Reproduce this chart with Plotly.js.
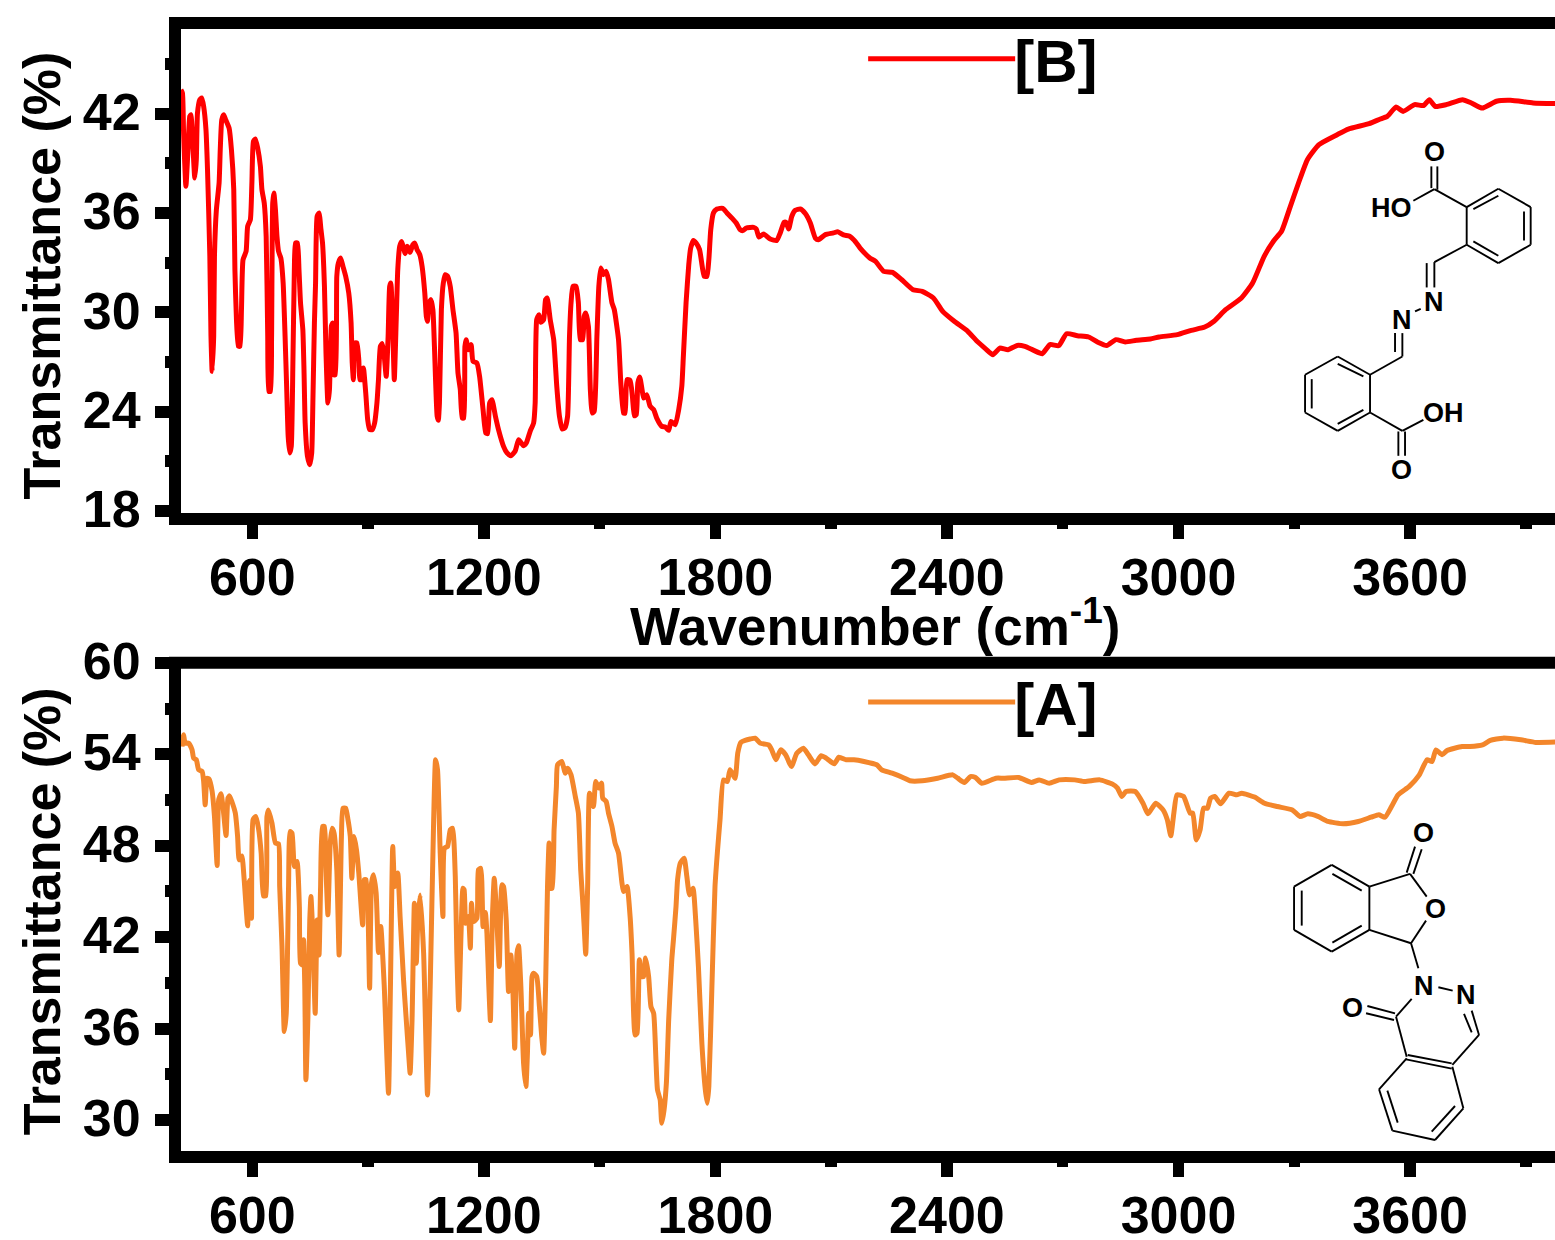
<!DOCTYPE html>
<html>
<head>
<meta charset="utf-8">
<script src="https://cdn.plot.ly/plotly-3.0.1.min.js"></script>
<style>html,body{margin:0;padding:0;background:#fff;overflow:hidden}#chart{width:1555px;height:1240px}</style>
</head>
<body>
<div id="chart"></div>
<script>
const wavenumberB = [415,419,422,428,433,438,441,445,451,455,458,464,469,474,480,484,490,493,496,500,502,507,514,517,521,526,531,540,546,552,555,559,564,568,572,576,584,588,595,599,603,608,614,621,625,631,636,640,643,647,650,653,656,660,664,668,674,680,685,689,693,697,701,705,709,712,717,721,725,731,734,737,743,749,754,757,761,764,768,773,778,782,787,791,796,800,805,808,811,815,819,823,829,835,842,850,856,859,862,866,871,876,879,884,888,894,899,904,911,917,923,927,932,937,942,947,952,956,959,964,968,973,977,982,987,992,996,1001,1005,1009,1016,1021,1027,1034,1040,1047,1051,1054,1058,1063,1068,1072,1079,1082,1085,1090,1095,1100,1106,1113,1120,1128,1133,1139,1144,1148,1151,1154,1160,1167,1172,1182,1189,1198,1205,1210,1215,1221,1230,1238,1251,1260,1270,1281,1290,1294,1303,1310,1320,1329,1333,1337,1343,1348,1355,1360,1364,1372,1381,1389,1396,1403,1410,1417,1422,1426,1431,1439,1445,1450,1456,1460,1464,1471,1476,1481,1486,1493,1498,1503,1510,1517,1523,1532,1538,1549,1555,1562,1566,1571,1579,1585,1590,1595,1599,1604,1610,1614,1622,1631,1640,1648,1661,1670,1679,1685,1696,1705,1713,1717,1724,1731,1736,1743,1750,1759,1764,1771,1778,1783,1788,1795,1804,1819,1830,1843,1854,1864,1871,1880,1899,1906,1913,1925,1942,1959,1968,1978,1983,1990,1998,2007,2020,2033,2046,2059,2067,2085,2106,2117,2132,2148,2160,2175,2200,2215,2236,2259,2283,2312,2336,2365,2389,2419,2454,2478,2501,2519,2537,2558,2582,2602,2625,2647,2667,2690,2710,2738,2767,2791,2814,2838,2862,2891,2927,2950,2997,3033,3068,3092,3122,3163,3192,3222,3246,3267,3287,3311,3334,3364,3411,3440,3494,3523,3541,3564,3582,3612,3635,3650,3665,3694,3736,3759,3787,3824,3860,3919,3976];
const transmittanceB = [43.46,43.26,40.84,37.62,39.63,41.85,41.95,40.64,38.12,39.23,42.05,42.86,42.96,42.45,41.04,38.63,33.39,28.55,26.43,28.55,33.39,36.21,37.82,39.83,41.65,41.95,41.65,41.14,39.83,37.42,32.58,29.56,27.95,27.95,30.16,33.18,33.69,35.2,35.6,37.82,40.34,40.48,39.93,38.83,37.42,36.61,34.59,28.55,25.22,25.22,28.55,36.61,37.21,36.21,34.59,33.69,33.28,31.77,28.55,25.53,22.5,21.5,21.9,26.53,32.58,34.19,34.19,32.58,30.57,28.95,26.53,23.31,21.3,20.79,21.5,24.52,29.36,31.77,35.8,36.01,35,34.19,31.57,27.54,24.52,25.33,29.16,29.36,26.23,26.23,32.18,32.98,33.28,32.78,32.18,31.17,29.36,26.94,25.93,28.15,28.15,27.14,25.93,25.93,26.64,25.13,23.51,22.91,22.91,23.31,24.52,25.93,27.94,28.11,27.34,26.13,28.55,31.57,31.77,28.95,25.93,29.56,32.58,33.99,34.29,33.89,33.55,33.99,33.89,33.63,34.09,34.19,33.79,33.49,32.78,31.17,29.76,29.46,30.57,30.77,30.16,27.94,23.72,23.47,24.52,30.16,31.77,32.28,32.18,31.57,30.16,28.75,26.33,25.33,23.61,23.61,27.94,28.35,27.74,28.05,27.04,26.94,26.13,24.12,22.71,22.67,24.52,24.72,23.72,22.91,21.9,21.5,21.33,21.6,22.3,22.2,21.94,22.1,22.81,23.31,24.52,29.56,29.86,29.4,29.56,30.77,30.87,29.56,28.35,25.53,23.71,22.95,23.01,23.71,28.55,30.57,31.57,31.57,30.57,28.35,28.35,29.76,29.96,29.15,25.33,23.91,24.02,28.55,31.57,32.68,32.28,32.48,31.98,30.57,30.16,28.35,25.73,23.91,23.91,25.93,25.89,24.92,23.75,23.81,25.73,26.09,25.33,24.82,25.02,24.32,24.12,23.61,23.11,23.07,22.87,23.41,23.21,24.12,25.53,27.34,30.57,32.88,33.89,34.35,34.19,33.79,33.08,32.18,32.18,33.18,35,36.01,36.25,36.29,36.01,35.7,35.4,35,34.94,35.1,35.14,35.04,34.55,34.74,34.43,34.35,34.8,35.44,35.44,35.04,35.81,36.17,36.25,35.97,35.4,34.49,34.39,34.7,34.8,34.88,34.68,34.6,34.35,33.89,33.29,33.08,32.48,32.42,31.97,31.37,31.27,30.87,30.06,29.46,28.85,28.25,27.78,27.44,27.84,27.74,28,27.94,27.7,27.5,28.05,27.99,28.71,28.59,28.51,28.19,27.99,28.35,28.21,28.31,28.39,28.51,28.65,28.91,29.11,29.46,30.16,30.87,31.77,33.39,34.3,34.9,36.21,37.82,39.23,40.14,40.74,41.08,41.41,41.69,41.85,42.41,42.15,42.56,42.5,42.86,42.45,42.56,42.86,42.66,42.35,42.76,42.82,42.66,42.62];

const wavenumberA = [418,422,426,435,444,448,455,461,470,474,478,483,488,496,502,509,513,519,524,532,537,541,547,556,562,566,573,579,588,591,595,598,602,609,616,623,629,635,638,642,651,660,668,671,677,683,688,694,698,703,709,716,722,725,730,733,736,739,744,749,752,757,763,768,773,777,782,787,791,796,802,807,812,819,825,831,835,842,848,854,858,864,870,876,886,890,895,904,909,914,921,927,933,942,953,958,964,969,977,983,992,999,1005,1009,1014,1020,1025,1029,1035,1044,1054,1061,1070,1075,1080,1087,1094,1098,1106,1113,1119,1126,1130,1135,1141,1146,1149,1153,1160,1165,1168,1173,1182,1186,1192,1198,1204,1208,1213,1217,1222,1227,1232,1240,1247,1251,1258,1264,1270,1275,1280,1286,1290,1296,1303,1309,1313,1316,1321,1325,1329,1337,1344,1350,1355,1360,1365,1369,1372,1377,1382,1388,1391,1402,1411,1417,1426,1437,1445,1451,1456,1460,1464,1469,1474,1484,1490,1498,1505,1508,1517,1523,1532,1540,1549,1558,1562,1571,1579,1584,1592,1597,1603,1609,1614,1619,1627,1633,1640,1646,1650,1657,1661,1667,1673,1679,1687,1692,1698,1702,1709,1719,1726,1733,1742,1749,1756,1765,1774,1779,1783,1791,1799,1805,1812,1821,1831,1838,1851,1858,1866,1877,1890,1903,1916,1938,1946,1957,1969,1982,1997,2011,2028,2041,2058,2074,2087,2108,2120,2139,2159,2185,2218,2231,2258,2290,2304,2336,2376,2415,2428,2445,2461,2474,2490,2527,2547,2586,2619,2639,2665,2691,2731,2757,2796,2829,2842,2853,2864,2888,2908,2921,2941,2960,2971,2980,2988,2996,3013,3030,3037,3046,3056,3065,3075,3083,3094,3109,3131,3151,3164,3197,3223,3256,3295,3315,3335,3361,3387,3427,3466,3499,3519,3535,3552,3569,3598,3624,3644,3657,3667,3683,3696,3735,3755,3788,3808,3841,3887,3926,3976];
const transmittanceA = [54.51,55.28,54.73,54.73,54.29,53.75,53.64,52.98,52.87,52.22,50.68,52.43,52.37,51.56,49.92,46.7,51.01,51.41,50.57,48.67,51.12,51.27,50.9,50.14,48.6,47.07,47.33,45.76,42.74,45.54,45.76,43.24,49.7,49.92,49.15,47.51,44.71,44.71,49.92,50.35,49.48,48.17,48.12,45.32,41.38,35.8,37,45.32,48.93,48.82,46.63,46.96,44.01,40.29,40.18,41.82,38.75,32.63,36.57,43.13,44.66,42.04,37,43.13,40.83,45.32,49.26,49.26,46.42,43.46,48.17,49.15,48.82,46.42,40.83,48.6,50.46,50.46,49.7,48.6,45.87,48.6,47.73,46.2,42.8,45.76,45.76,38.65,45.54,46.09,44.88,40.99,42.69,38.75,31.75,38.75,47.95,45.32,46.2,43.35,39.19,36.57,34.38,33.06,36.57,44.23,40.29,43.13,44.77,40.94,31.64,38.75,49.7,53.64,52.98,47.51,43.35,47.84,47.95,49.04,49.15,45.98,40.94,37.22,42.26,45.21,45.1,42.91,43.35,41.27,44.23,43.02,43.24,46.42,46.52,42.69,43.61,42.26,38.75,36.52,43.13,45.87,44.01,40.07,45.43,45.32,43.13,38.43,40.83,38.75,34.71,40.94,41.43,38.75,33.72,32.19,34.38,37,35.58,39.41,39.63,39.41,37.44,35.47,34.38,38.75,45.32,48.17,45.21,45.21,49.04,51.89,53.31,53.53,52.76,53.09,52.65,51.23,50.14,46.42,44.45,42.69,40.88,45.32,51.45,50.57,52.22,51.78,52.11,51.12,50.9,50.14,49.26,48.17,47.51,45.54,44.99,45.32,43.35,40.94,35.58,35.69,40.51,39.41,39.41,40.62,39.41,37.44,37,33.94,31.97,31.31,29.78,30.66,32.41,36.57,40.51,42.04,44.01,45.76,46.85,47.18,45.98,44.77,45.21,43.13,40.07,35.03,31.97,31.1,32.19,38.75,45.32,47.51,49.7,52.32,52.21,52.98,52.43,54.08,54.78,54.91,55,55.06,54.73,54.62,54.29,53.64,54.29,53.97,53.2,54.07,54.4,53.97,53.37,53.9,53.75,53.37,53.81,53.64,53.64,53.53,53.31,52.98,52.76,52.43,52.26,52.26,52.43,52.65,52.43,52.15,52.54,52.48,52.1,52.43,52.43,52.48,52.15,52.32,52.1,52.32,52.32,52.21,52.32,52.04,51.78,51.23,51.56,51.56,50.79,50.09,50.79,50.35,49.7,48.65,50.14,51.34,51.23,50.14,50.14,48.38,49.04,50.46,50.46,51.12,51.23,50.75,51.45,51.34,51.45,51.19,50.79,50.57,50.35,49.92,50.09,49.92,49.59,49.44,49.59,49.87,50.03,49.87,50.57,51.34,51.89,52.65,53.64,53.53,54.29,53.97,54.25,54.51,54.51,54.62,54.91,55.06,54.95,54.78,54.8];

const seriesNames = ['[B]', '[A]'];
const xTicks = [600, 1200, 1800, 2400, 3000, 3600];
const yTicksB = [18, 24, 30, 36, 42];
const yTicksA = [30, 36, 42, 48, 54, 60];
const xTitle = 'Wavenumber (cm<sup>-1</sup>)';
const yTitle = 'Transmittance (%)';

// Structure drawings, in crop units: [x0, y0, x1, y1]
const moleculeB = [[590,262,685,207],[685,207,782,262],[782,262,782,375],[782,375,685,430],[685,430,590,375],[590,375,590,262],[610,268,685,228],[762,275,762,362],[610,365,685,408],[590,262,493,208],[484,140,484,205],[502,140,502,210],[493,208,430,243],[590,375,493,427],[470,430,470,503],[493,427,493,503],[435,575,452,567],[375,640,375,697],[397,640,397,710],[397,710,300,765],[300,765,203,710],[203,710,105,765],[105,765,105,878],[105,878,203,933],[203,933,300,878],[300,878,300,765],[280,770,203,732],[125,778,125,866],[203,912,280,870],[300,878,397,933],[385,935,385,1008],[405,935,405,1008],[397,933,460,900]];
const moleculeA = [[298,260,185,195],[185,195,72,260],[72,260,72,390],[72,390,185,455],[185,455,298,390],[298,390,298,260],[275,272,187,222],[95,272,95,377],[187,428,275,377],[298,260,420,222],[410,218,435,140],[430,222,455,148],[420,222,470,290],[468,362,423,430],[298,390,423,430],[423,430,445,505],[505,562,548,572],[605,632,627,705],[582,642,605,697],[627,705,547,795],[413,765,545,790],[408,778,545,806],[410,770,378,650],[292,618,375,640],[288,640,372,660],[378,650,425,597],[410,775,327,868],[327,868,367,992],[367,992,495,1020],[495,1020,580,925],[580,925,547,800],[352,872,383,968],[485,995,555,918]];
const atomsB = [['O',492,98],['HO',365,265],['N',493,547],['N',397,600],['OH',520,880],['O',395,1050]];
const atomsA = [['O',460,100],['O',495,328],['N',462,558],['N',587,585],['O',247,625]];

const L = 180.7, R = 1555, T = 29.3, B = 1151;
const px = v => (v - L) / (R - L);
const py = v => 1 - (v - T) / (B - T);
const FONT = 'Liberation Sans';
const f = size => ({family: FONT, size: size, color: '#000', weight: 700});
const LEGEND_LINE = 147;

function bondShapes(list, ox, oy) {
  return list.map(b => ({type:'line', xref:'paper', yref:'paper', layer:'above',
    x0:px(ox+b[0]/3), y0:py(oy+b[1]/3), x1:px(ox+b[2]/3), y1:py(oy+b[3]/3),
    line:{color:'#000', width:1.9}}));
}
function atomNotes(list, ox, oy) {
  return list.map(a => ({xref:'paper', yref:'paper', x:px(ox+a[1]/3), y:py(oy+a[2]/3),
    text:a[0], showarrow:false, xanchor:'center', yanchor:'middle', font:f(27)}));
}
function titleNote(text, cx, cy, size, angle) {
  return {xref:'paper', yref:'paper', x:px(cx), y:py(cy), text:text, showarrow:false, xanchor:'center', yanchor:'middle',
    textangle:angle, font:f(size)};
}

const xCommon = {
  range:[415.3, 3975.6], tickvals:xTicks, ticktext:xTicks.map(String), ticks:'outside', ticklen:14, tickwidth:11.5,
  tickcolor:'#000', showline:true, linecolor:'#000', linewidth:12, showgrid:false, zeroline:false,
  tickfont:f(52), ticklabelstandoff:-6, automargin:false,
  minor:{dtick:300, tick0:0, ticks:'outside', ticklen:4, tickwidth:11.5, tickcolor:'#000', showgrid:false}
};
const yCommon = {
  ticks:'outside', ticklen:14, tickwidth:12, tickcolor:'#000', showline:true, linecolor:'#000', linewidth:12,
  showgrid:false, zeroline:false, tickfont:f(52), ticklabelstandoff:4, ticklabelshift:-2, automargin:false,
  minor:{dtick:3, tick0:0, ticks:'outside', ticklen:4, tickwidth:12, tickcolor:'#000', showgrid:false}
};

const traces = [
  {x:wavenumberB, y:transmittanceB, name:seriesNames[0], type:'scatter', mode:'lines', xaxis:'x', yaxis:'y', legend:'legend',
   line:{color:'#FF0000', width:5, shape:'spline', smoothing:0.5}},
  {x:wavenumberA, y:transmittanceA, name:seriesNames[1], type:'scatter', mode:'lines', xaxis:'x2', yaxis:'y2', legend:'legend2',
   line:{color:'#F3862B', width:5, shape:'spline', smoothing:0.5}}
];

const legendBase = {xref:'paper', yref:'paper', xanchor:'left', yanchor:'middle', bgcolor:'rgba(0,0,0,0)', borderwidth:0,
  itemwidth:LEGEND_LINE, font:f(60), itemclick:false, itemdoubleclick:false};

const layout = {
  width:1555, height:1240, paper_bgcolor:'#fff', plot_bgcolor:'#fff', showlegend:true,
  margin:{l:L, r:0, t:T, b:1240-B, pad:0},
  xaxis:Object.assign({}, xCommon, {anchor:'y', mirror:true}),
  yaxis:Object.assign({}, yCommon, {anchor:'x', domain:[py(513), 1], range:[17.88, 47.13], tickvals:yTicksB}),
  xaxis2:Object.assign({}, xCommon, {anchor:'y2'}),
  yaxis2:Object.assign({}, yCommon, {anchor:'x2', domain:[0, py(663)], range:[27.96, 60], tickvals:yTicksA}),
  legend:Object.assign({}, legendBase, {x:px(863), y:py(59)}),
  legend2:Object.assign({}, legendBase, {x:px(863), y:py(702)}),
  shapes:[{type:'line', xref:'paper', yref:'paper', layer:'above', x0:px(168.7), x1:1, y0:py(663), y1:py(663), line:{color:'#000', width:12}}]
    .concat(bondShapes(moleculeB, 1270, 120), bondShapes(moleculeA, 1270, 800)),
  annotations:[titleNote(xTitle, 875, 623, 53, 0), titleNote(yTitle, 42, 275.5, 52, -90), titleNote(yTitle, 42, 911, 52, -90)]
    .concat(atomNotes(atomsB, 1270, 120), atomNotes(atomsA, 1270, 800))
};

const chartEl = document.getElementById('chart');
Plotly.newPlot(chartEl, traces, layout, {displayModeBar:false, staticPlot:true}).then(() => {
  document.querySelectorAll('#chart text.legendtext, #chart text.legend2text')
    .forEach(t => t.setAttribute('x', LEGEND_LINE + 4));
});
</script>
</body>
</html>
